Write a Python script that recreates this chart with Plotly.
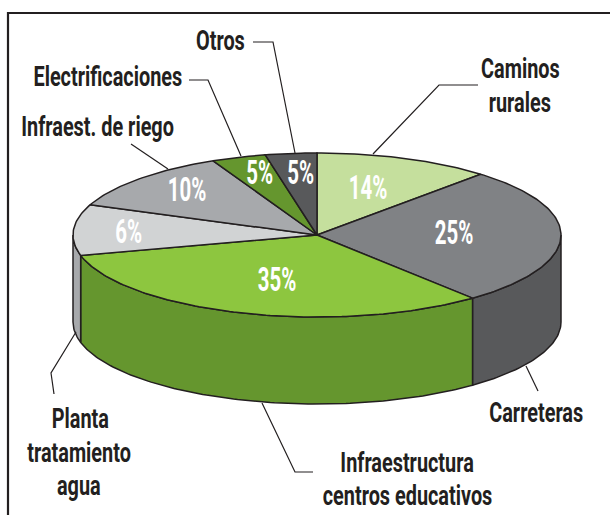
import math
import plotly.graph_objects as go

# Data
categories = ["Caminos rurales", "Carreteras", "Infraestructura centros educativos",
              "Planta tratamiento agua", "Infraest. de riego", "Electrificaciones", "Otros"]
printed_pct = [14, 25, 35, 6, 10, 5, 5]
# Share of the ellipse each slice occupies as drawn in the picture
drawn_share = [11.7, 27.3, 32.0, 10.0, 12.0, 3.6, 3.4]

top_colors = ["#C5DF9D", "#808285", "#8DC63F", "#D1D3D4", "#A7A9AC", "#65962E", "#58595B"]
side_colors = ["#A5C27A", "#58595B", "#65962E", "#A7A9AC", "#808285", "#4C7324", "#3F4042"]

INK = "#231F20"
FONT = "Roboto"
CX, CY, RX, RY, DEPTH = 317, 235, 244, 82, 87


def pt(t_deg, dy=0):
    t = math.radians(t_deg)
    return CX + RX * math.sin(t), CY - RY * math.cos(t) + dy


def arc(a, b, dy=0):
    n = max(2, int(abs(b - a)) + 2)
    return [pt(a + (b - a) * i / (n - 1), dy) for i in range(n)]


fig = go.Figure()
total = sum(drawn_share)
edges = [0]
for s in drawn_share:
    edges.append(edges[-1] + s / total * 360)

# Outer walls (only the part of each slice on the near half of the ellipse)
for i in range(len(drawn_share)):
    a, b = max(edges[i], 90), min(edges[i + 1], 270)
    if b <= a:
        continue
    poly = arc(a, b) + arc(b, a, DEPTH)
    poly.append(poly[0])
    fig.add_trace(go.Scatter(x=[p[0] for p in poly], y=[p[1] for p in poly], mode="lines",
                             fill="toself", fillcolor=side_colors[i],
                             line=dict(color=INK, width=1.5), hoverinfo="skip"))

# Top faces
for i in range(len(drawn_share)):
    poly = [(CX, CY)] + arc(edges[i], edges[i + 1]) + [(CX, CY)]
    fig.add_trace(go.Scatter(x=[p[0] for p in poly], y=[p[1] for p in poly], mode="lines",
                             fill="toself", fillcolor=top_colors[i],
                             line=dict(color=INK, width=1.5), hoverinfo="skip"))

annotations = []


def text(x, y, s, size, color, weight=700):
    annotations.append(dict(x=x, y=y, xref="x", yref="y", text=s, showarrow=False,
                            xanchor="center", yanchor="middle",
                            font=dict(family=FONT, size=size, color=color, weight=weight)))


pct_pos = [(368, 187), (454, 232), (277, 279), (128, 231), (187, 189), (259, 172), (300, 172)]
for (x, y), v in zip(pct_pos, printed_pct):
    text(x, y, f"{v}%", 33, "white", 700)

name_lines = [
    (520, 68, "Caminos"), (520, 102, "rurales"),
    (536, 412, "Carreteras"),
    (407, 462, "Infraestructura"), (407, 495, "centros educativos"),
    (80, 418, "Planta"), (79, 452, "tratamiento"), (79, 485, "agua"),
    (97, 126, "Infraest. de riego"),
    (108, 76, "Electrificaciones"),
    (220, 40, "Otros"),
]
for x, y, s in name_lines:
    text(x, y, s, 28, INK)

leaders = [
    [(478, 85), (439, 85), (373, 154)],
    [(538, 391), (526, 366)],
    [(262, 403), (295, 472), (313, 472)],
    [(76, 332), (51, 373), (54, 394)],
    [(131, 144), (168, 169)],
    [(189, 80), (208, 80), (241, 156)],
    [(253, 42), (273, 42), (295, 153)],
]
shapes = []
for L in leaders:
    d = "M " + " L ".join(f"{x},{y}" for x, y in L)
    shapes.append(dict(type="path", path=d, xref="x", yref="y",
                       line=dict(color=INK, width=1.2)))
# Frame
shapes.append(dict(type="path", path="M 8,515 L 8,13 L 610,13", xref="x", yref="y",
                   line=dict(color=INK, width=2.2)))

fig.update_layout(
    width=610, height=515, showlegend=False,
    margin=dict(l=0, r=0, t=0, b=0, pad=0),
    paper_bgcolor="white", plot_bgcolor="white",
    xaxis=dict(range=[0, 610], visible=False, fixedrange=True),
    yaxis=dict(range=[515, 0], visible=False, fixedrange=True),
    annotations=annotations, shapes=shapes,
)

# Page margin off; squeeze the labels horizontally to the reference's condensed lettering
post = """
document.documentElement.style.overflow = 'hidden';
document.body.style.margin = '0';
document.querySelectorAll('.annotation-text').forEach(function (t) {
  var s = /%$/.test(t.textContent) ? 0.62 : 0.71;
  t.style.transformBox = 'fill-box';
  t.style.transformOrigin = 'center';
  t.style.transform = 'scaleX(' + s + ')';
});
"""
fig.write_html("out.html", config={"displayModeBar": False}, post_script=post)
